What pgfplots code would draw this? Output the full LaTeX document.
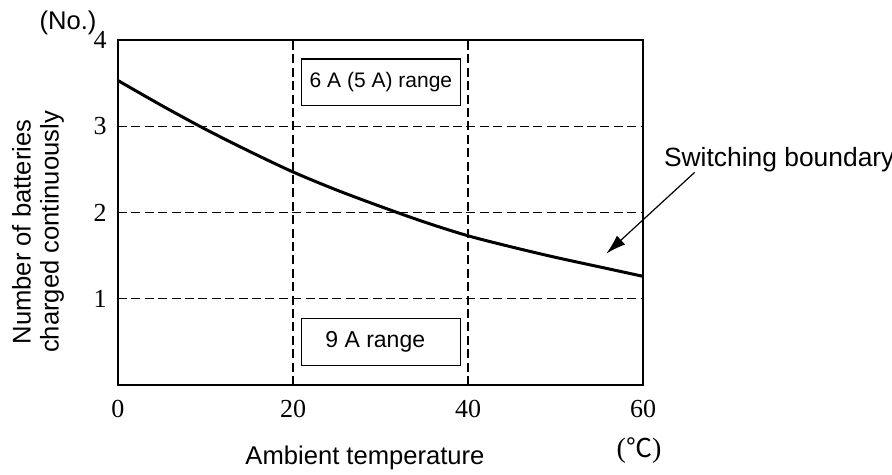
\documentclass[border=0pt]{standalone}
\usepackage{fontspec}
\setmainfont{Liberation Sans}
\newfontfamily\serifnum{Liberation Serif}
\newfontfamily\cjk{Noto Sans CJK JP}
\usepackage{pgfplots}
\pgfplotsset{compat=1.18}
\usetikzlibrary{arrows.meta}

\begin{document}
\begin{tikzpicture}
\begin{axis}[
  scale only axis,
  width=262.5pt, height=172.5pt,
  xmin=0, xmax=60, ymin=0, ymax=4,
  xtick={0,20,40,60}, ytick={1,2,3,4},
  major tick length=0pt,
  grid=major,
  grid style={black, line width=0.6pt, dash pattern=on 4.5pt off 2.2pt},
  axis line style={black, line width=0.9pt},
  axis on top,
  clip=false,
  /pgf/number format/assume math mode=true,
  tick label style={font=\serifnum\fontsize{13}{14}\selectfont},
  xticklabel style={anchor=base, yshift=-16.5pt},
  yticklabel style={anchor=center, xshift=-9pt},
]
% switching boundary
\addplot[black, line width=1.5pt, smooth] coordinates {
  (0,3.53) (5,3.24) (10,2.965) (15,2.71) (20,2.47) (25,2.26) (30,2.07)
  (35,1.89) (40,1.73) (45,1.60) (50,1.48) (55,1.37) (60,1.26)};

\draw[black, line width=0.6pt, fill=white] (axis cs:21,3.24) rectangle (axis cs:39.1,3.78);
\node[font=\fontsize{10.5}{12}\selectfont] at (axis cs:30.05,3.51) {6 A (5 A) range};
\draw[black, line width=0.6pt, fill=white] (axis cs:21,0.23) rectangle (axis cs:39.1,0.77);
\node[font=\fontsize{11.5}{13}\selectfont] at (axis cs:29.4,0.50) {9 A range};

\draw[black, line width=0.6pt, -{Latex[length=10pt, width=6pt]}]
  (axis cs:65.9,2.465) -- (axis cs:55.8,1.523);
\end{axis}

\node[anchor=west, font=\fontsize{13.2}{15}\selectfont] at (269.5pt,112.5pt) {Switching boundary};
\node[font=\fontsize{12.8}{15}\selectfont] at (-25pt,181pt) {(No.)};
\node[rotate=90, align=center, font=\fontsize{12.8}{14}\selectfont] at (-40pt,76.5pt)
  {Number of batteries\\charged continuously};
\node[font=\fontsize{12.8}{15}\selectfont] at (123.5pt,-36.5pt) {Ambient temperature};
\node[inner sep=0pt] at (260.5pt,-33pt)
  {{\serifnum\fontsize{14}{14}\selectfont(}{\cjk\fontsize{13}{14}\selectfont ℃}{\serifnum\fontsize{14}{14}\selectfont)}};

\pgfresetboundingbox
\useasboundingbox (-59pt,-45pt) rectangle (387pt,192.5pt);
\end{tikzpicture}
\end{document}
